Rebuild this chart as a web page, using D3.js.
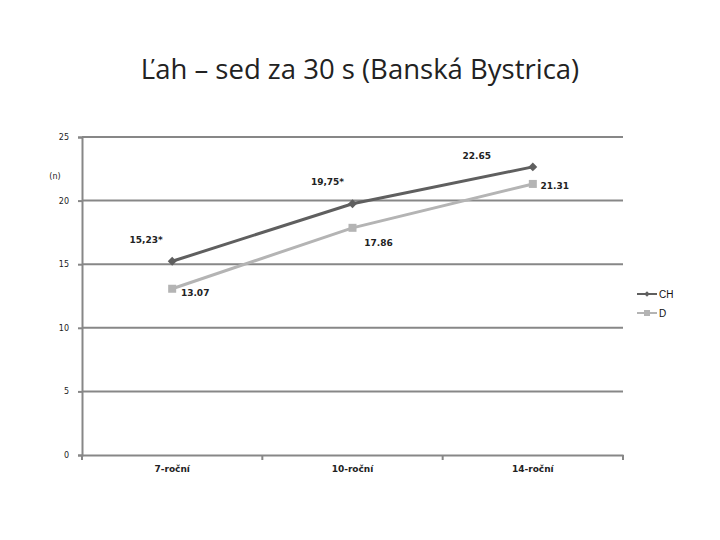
<!DOCTYPE html>
<html><head><meta charset="utf-8">
<script src="https://cdn.jsdelivr.net/npm/d3@7"></script>
<style>body{margin:0;background:#fff}svg{display:block}</style>
</head><body>
<svg id="c" width="720" height="540"></svg>
<script>
const categories = ["7-roční", "10-roční", "14-roční"];
const chValues = [15.23, 19.75, 22.65];
const dValues = [13.07, 17.86, 21.31];
const chLabels = ["15,23*", "19,75*", "22.65"];
const dLabels = ["13.07", "17.86", "21.31"];
const yTicks = [0, 5, 10, 15, 20, 25];
const seriesNames = ["CH", "D"];

(function () {
const svg = d3.select("#c");
const pLeft = 82, pRight = 623, pTop = 137, pBottom = 455;
const x = d3.scaleBand().domain(categories).range([pLeft, pRight]);
const y = d3.scaleLinear().domain([0, 25]).range([pBottom, pTop]);
const cx = c => x(c) + x.bandwidth() / 2;
const grid = "#878787";

svg.append("text").attr("x", 360).attr("y", 79).attr("text-anchor", "middle")
  .attr("font-family", "'Open Sans', Lato, sans-serif").attr("font-size", 27.5).attr("fill", "#222")
  .text("Ľah – sed za 30 s (Banská Bystrica)");

svg.append("g").selectAll("line").data(yTicks.filter(t => t > 0)).join("line")
  .attr("x1", pLeft).attr("x2", pRight).attr("y1", d => y(d)).attr("y2", d => y(d))
  .attr("stroke", grid).attr("stroke-width", 2);

const ya = svg.append("g").attr("transform", `translate(${pLeft},0)`)
  .call(d3.axisLeft(y).tickValues(yTicks).tickSize(4).tickPadding(9));
ya.select(".domain").attr("stroke", grid).attr("stroke-width", 2);
ya.selectAll(".tick line").attr("stroke", grid).attr("stroke-width", 2);
ya.selectAll("text").attr("font-family", "DejaVu Sans, sans-serif").attr("font-size", 8).attr("fill", "#222");

const xa = svg.append("g").attr("transform", `translate(0,${pBottom})`)
  .call(d3.axisBottom(x).tickSize(0).tickPadding(11));
xa.select(".domain").attr("stroke", grid).attr("stroke-width", 2);
xa.selectAll("text").attr("font-family", "DejaVu Sans, sans-serif").attr("font-size", 9)
  .attr("font-weight", "bold").attr("fill", "#222");
const bounds = categories.map(c => x(c)).concat([pRight]);
svg.append("g").selectAll("line").data(bounds).join("line")
  .attr("x1", d => d).attr("x2", d => d).attr("y1", pBottom).attr("y2", pBottom + 5)
  .attr("stroke", grid).attr("stroke-width", 2);

svg.append("text").attr("x", 55).attr("y", 179).attr("text-anchor", "middle")
  .attr("font-family", "DejaVu Sans, sans-serif").attr("font-size", 8).attr("fill", "#222").text("(n)");

const line = d3.line().x((d, i) => cx(categories[i])).y(d => y(d));
const chColor = "#5f5f5f", dColor = "#b4b4b4";

svg.append("path").datum(dValues).attr("d", line).attr("fill", "none")
  .attr("stroke", dColor).attr("stroke-width", 3);
svg.append("g").selectAll("rect").data(dValues).join("rect")
  .attr("x", (d, i) => cx(categories[i]) - 4).attr("y", d => y(d) - 4)
  .attr("width", 8).attr("height", 8).attr("fill", dColor);

svg.append("path").datum(chValues).attr("d", line).attr("fill", "none")
  .attr("stroke", chColor).attr("stroke-width", 3);
svg.append("g").selectAll("path").data(chValues).join("path")
  .attr("d", d3.symbol(d3.symbolDiamond2, 50))
  .attr("transform", (d, i) => `translate(${cx(categories[i])},${y(d)})`).attr("fill", chColor);

const lblFont = g => g.attr("font-family", "DejaVu Sans, sans-serif").attr("font-size", 9)
  .attr("font-weight", "bold").attr("fill", "#222").attr("text-anchor", "middle");
const chOff = [[-26, -18], [-25, -19], [-56, -8]];
const dOff = [[23, 7], [26, 18], [22, 5]];
svg.append("g").selectAll("text").data(chValues).join("text").call(lblFont)
  .attr("x", (d, i) => cx(categories[i]) + chOff[i][0]).attr("y", (d, i) => y(d) + chOff[i][1])
  .text((d, i) => chLabels[i]);
svg.append("g").selectAll("text").data(dValues).join("text").call(lblFont)
  .attr("x", (d, i) => cx(categories[i]) + dOff[i][0]).attr("y", (d, i) => y(d) + dOff[i][1])
  .text((d, i) => dLabels[i]);

const leg = svg.append("g");
seriesNames.forEach((n, i) => {
  const ly = 294 + i * 19, col = i === 0 ? chColor : dColor;
  leg.append("line").attr("x1", 637).attr("x2", 657).attr("y1", ly).attr("y2", ly)
    .attr("stroke", col).attr("stroke-width", 2);
  if (i === 0) leg.append("path").attr("d", d3.symbol(d3.symbolDiamond2, 20))
    .attr("transform", `translate(647,${ly})`).attr("fill", col);
  else leg.append("rect").attr("x", 644).attr("y", ly - 3).attr("width", 6).attr("height", 6).attr("fill", col);
  leg.append("text").attr("x", 659).attr("y", ly + 4).attr("font-family", "Liberation Sans, Arial, sans-serif")
    .attr("font-size", 10).attr("fill", "#111").text(n);
});
})();
</script>
</body></html>
